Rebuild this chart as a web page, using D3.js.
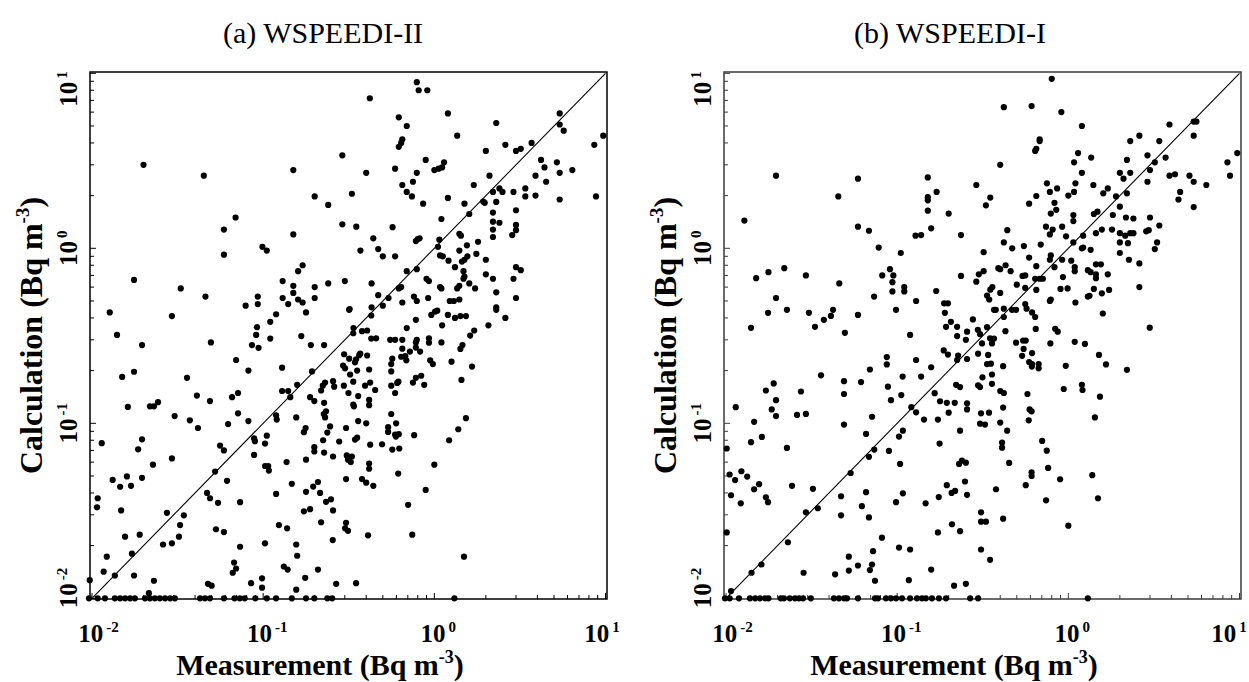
<!DOCTYPE html>
<html>
<head>
<meta charset="utf-8">
<script src="https://cdn.jsdelivr.net/npm/d3@7"></script>
<style>
  body { margin: 0; background: #fff; }
  text { font-family: "Liberation Serif", "Times New Roman", serif; }
</style>
</head>
<body>
<div id="chart"></div>
<script>

var decades = [-2, -1, 0, 1];

var wspeedi2 = [
  [0.020,3.0],[0.045,2.6],[0.15,2.8],[0.069,1.5],[0.059,1.28],[0.15,1.2],[0.059,0.92],[0.099,1.02],[0.105,0.97],[0.16,0.74],
  [0.0176,0.66],[0.033,0.59],[0.046,0.53],[0.13,0.65],[0.15,0.61],[0.093,0.53],[0.079,0.47],[0.093,0.48],[0.13,0.52],[0.15,0.556],
  [0.16,0.51],[0.14,0.48],
  [0.79,8.9],[0.81,8.0],[0.91,8.0],[0.42,7.2],[1.2,5.9],[0.62,5.6],[0.69,5.0],[2.3,5.2],[5.4,5.9],[5.4,5.1],[5.7,4.7],[9.7,4.4],
  [8.6,3.9],[1.36,4.4],[0.65,4.2],[0.64,4.0],[0.62,3.8],[2.6,3.9],[3.0,3.6],[3.2,3.7],[3.7,4.0],[2.0,3.6],[0.29,3.4],[0.89,3.2],
  [1.14,3.1],[1.11,2.9],[1.0,2.8],[1.06,2.85],[0.40,2.7],[0.59,2.85],[0.79,2.7],[0.75,2.4],[0.65,2.3],[0.69,2.1],[0.74,1.98],
  [0.86,1.8],[1.2,1.94],[2.1,2.6],[4.2,3.2],[4.4,2.9],[5.2,3.1],[5.4,2.7],[6.4,2.8],[3.9,2.6],[4.5,2.4],[1.7,2.3],[2.4,2.2],
  [2.5,2.1],[2.2,2.1],[2.9,2.1],[3.4,2.2],[3.4,1.98],[3.9,2.0],[5.4,1.9],[8.8,1.98],[0.33,2.05],[0.20,1.98],[0.24,1.77],[1.5,1.8],
  [1.93,1.85],[1.97,1.82],[2.3,1.84],[1.6,1.57],[2.2,1.6],[3.0,1.65],[1.1,1.47],[2.2,1.42],[2.4,1.40],[2.2,1.28],[3.0,1.36],
  [3.0,1.27],[2.85,1.19],[2.2,1.16],[0.29,1.37],[0.35,1.33],[0.57,1.32],[0.44,1.14],[0.47,0.99],[0.37,0.97],[0.50,0.90],[0.59,0.90],
  [0.80,1.13],[0.82,1.14],[0.78,1.10],[1.07,1.12],[1.05,1.02],[1.4,1.21],[1.43,1.18],[1.55,1.04],[1.4,0.97],[1.8,1.09],[1.08,0.91],
  [1.12,0.90],[1.21,0.85],[1.32,0.78],[1.5,0.86],[1.45,0.84],[1.56,0.90],[1.76,0.93],[2.0,0.86],[1.48,0.74],[2.0,0.71],[3.0,0.78],
  [3.2,0.75],[2.9,0.67],[2.2,0.67],[0.17,0.80],[0.20,0.60],[0.24,0.63],[0.30,0.65],[0.43,0.63],[0.69,0.74],[0.79,0.76],[0.64,0.60],
  [0.62,0.59],[0.90,0.67],[0.93,0.65],[1.08,0.60],[1.1,0.59],[1.36,0.59],[1.4,0.61],[1.48,0.67],[1.5,0.69],[1.6,0.63],[1.73,0.59],
  [2.3,0.56],[0.17,0.49],[0.20,0.52],[0.32,0.45],[0.47,0.54],[0.54,0.52],[0.50,0.47],[0.43,0.46],[0.65,0.49],[0.76,0.53],[0.79,0.50],
  [0.92,0.52],[1.23,0.50],[1.3,0.50],[1.4,0.51],[2.3,0.46],[3.0,0.52],
  [0.0127,0.43],[0.0293,0.41],[0.119,0.42],[0.014,0.32],[0.092,0.354],[0.091,0.32],[0.086,0.28],[0.094,0.27],[0.11,0.38],[0.11,0.305],
  [0.0196,0.28],[0.0495,0.29],[0.0695,0.23],[0.082,0.20],[0.015,0.184],[0.0176,0.197],[0.129,0.208],[0.0359,0.182],[0.041,0.144],
  [0.0489,0.134],[0.0658,0.141],[0.0713,0.149],[0.129,0.153],[0.14,0.153],[0.144,0.141],[0.158,0.166],[0.0162,0.124],[0.0218,0.125],
  [0.023,0.125],[0.0243,0.132],[0.0304,0.11],[0.0373,0.104],[0.0713,0.114],[0.082,0.103],[0.119,0.111],[0.12,0.105],[0.0624,0.099],
  [0.0416,0.094],[0.156,0.108],[0.0114,0.077],[0.0196,0.081],[0.0186,0.071],[0.0885,0.082],[0.0895,0.079],[0.1025,0.0766],
  [0.105,0.085],[0.0293,0.063],[0.0227,0.058],[0.056,0.0746],[0.059,0.07],[0.0885,0.066],[0.1025,0.057],[0.107,0.057],[0.108,0.0537],
  [0.137,0.06],[0.0132,0.0475],[0.016,0.0497],[0.0169,0.0439],[0.0146,0.0434],[0.0196,0.0488],[0.0524,0.053],[0.0615,0.0469],
  [0.147,0.0451],[0.047,0.04],[0.0489,0.0373],[0.0545,0.0351],[0.0733,0.0354],[0.119,0.0395],[0.0108,0.0373],[0.0107,0.0331],
  [0.0148,0.0318],[0.0274,0.0308],[0.0344,0.0298],[0.0327,0.0262],[0.0322,0.0225],[0.0293,0.0206],[0.026,0.0203],[0.019,0.0231],
  [0.0156,0.0225],[0.053,0.0248],[0.059,0.0239],[0.0733,0.0197],[0.1025,0.0206],[0.1236,0.0262],[0.138,0.0251],[0.156,0.0203],
  [0.158,0.0175],[0.0122,0.0173],[0.0117,0.0142],[0.0136,0.0135],[0.0171,0.018],[0.0176,0.0135],[0.023,0.0126],[0.0215,0.0107],
  [0.0476,0.0121],[0.05,0.0118],[0.0664,0.014],[0.0695,0.0148],[0.0676,0.016],[0.085,0.0122],[0.0985,0.013],[0.0985,0.0115],
  [0.132,0.0152],[0.139,0.0146],[0.156,0.0112],[0.0097,0.0127],
  [0.0096,0.01],[0.0108,0.01],[0.0119,0.01],[0.0136,0.01],[0.0146,0.01],[0.0156,0.01],[0.0167,0.01],[0.0178,0.01],[0.0204,0.01],
  [0.0218,0.01],[0.0233,0.01],[0.0249,0.01],[0.0267,0.01],[0.0286,0.01],[0.0305,0.01],[0.0428,0.01],[0.0457,0.01],[0.0489,0.01],
  [0.059,0.01],[0.068,0.01],[0.073,0.01],[0.078,0.01],[0.09,0.01],[0.105,0.01],[0.119,0.01],[0.147,0.01],[0.178,0.01],[0.199,0.01],
  [0.237,0.01],[0.253,0.01],[1.31,0.01],
  [0.178,0.43],[0.318,0.445],[0.428,0.413],[0.78,0.39],[0.96,0.416],[1.01,0.435],[1.04,0.44],[1.2,0.416],[1.32,0.40],[1.42,0.41],
  [1.53,0.41],[2.3,0.445],[2.6,0.40],[2.07,0.363],[1.11,0.363],[0.337,0.35],[0.336,0.327],[0.69,0.35],[0.167,0.315],[0.19,0.28],
  [0.227,0.28],[0.193,0.198],[0.378,0.336],[0.405,0.339],[0.428,0.305],[0.457,0.306],[0.552,0.30],[0.59,0.30],[0.65,0.30],[0.79,0.30],
  [0.78,0.29],[0.93,0.306],[0.93,0.289],[1.10,0.29],[1.62,0.317],[1.71,0.339],[0.297,0.248],[0.318,0.234],[0.344,0.223],[0.349,0.232],
  [0.364,0.245],[0.369,0.25],[0.405,0.244],[0.293,0.214],[0.301,0.206],[0.322,0.19],[0.354,0.20],[0.416,0.203],[0.56,0.218],
  [0.56,0.198],[0.568,0.234],[0.64,0.24],[0.65,0.267],[0.676,0.242],[0.686,0.229],[0.72,0.257],[0.78,0.271],[0.826,0.257],
  [0.946,0.229],[0.98,0.218],[1.26,0.225],[1.42,0.266],[1.46,0.28],[1.66,0.211],[0.188,0.141],[0.199,0.134],[0.218,0.154],
  [0.223,0.164],[0.23,0.171],[0.256,0.174],[0.26,0.162],[0.296,0.164],[0.315,0.149],[0.336,0.173],[0.359,0.143],[0.336,0.128],
  [0.339,0.125],[0.394,0.164],[0.422,0.171],[0.451,0.155],[0.416,0.136],[0.416,0.127],[0.56,0.164],[0.59,0.149],[0.607,0.17],
  [0.617,0.173],[0.75,0.171],[0.78,0.182],[0.838,0.187],[0.873,0.166],[1.44,0.177],[0.227,0.131],[0.226,0.113],[0.23,0.108],
  [0.233,0.117],[0.246,0.096],[0.237,0.0885],[0.177,0.094],[0.173,0.089],[0.305,0.094],[0.359,0.103],[0.40,0.10],[0.56,0.113],
  [0.598,0.10],[0.537,0.095],[0.537,0.0893],[0.59,0.0863],[0.62,0.0867],[0.596,0.084],[0.762,0.0855],[1.22,0.08],[1.38,0.0925],
  [1.53,0.107],[0.199,0.073],[0.199,0.069],[0.224,0.08],[0.227,0.068],[0.278,0.0787],[0.256,0.0646],[0.178,0.062],[0.308,0.0655],
  [0.313,0.062],[0.33,0.0646],[0.325,0.06],[0.344,0.0807],[0.354,0.0828],[0.422,0.0755],[0.495,0.0759],[0.568,0.0708],[0.624,0.0718],
  [0.416,0.0589],[0.416,0.055],[1.0,0.058],[0.615,0.0516],[0.89,0.0416],[0.305,0.048],[0.378,0.048],[0.40,0.0458],[0.44,0.0439],
  [0.209,0.0462],[0.196,0.0435],[0.178,0.0406],[0.215,0.04],[0.233,0.0356],[0.249,0.0368],[0.256,0.0318],[0.188,0.0323],
  [0.173,0.0314],[0.218,0.0272],[0.305,0.027],[0.301,0.0251],[0.313,0.0243],[0.255,0.0215],[0.41,0.0229],[0.703,0.0342],
  [0.743,0.0231],[1.49,0.0173],[0.209,0.0146],[0.176,0.0131],[0.267,0.0121],[0.349,0.0122]
];

var wspeedi1 = [
  [0.0196,2.6],[0.059,2.5],[0.151,2.54],[0.0453,1.98],[0.151,1.96],[0.151,1.88],[0.151,1.64],[0.0128,1.44],[0.059,1.33],[0.0684,1.26],
  [0.158,1.30],[0.128,1.18],[0.138,1.19],[0.078,1.01],[0.105,0.94],[0.0219,0.77],[0.0177,0.73],[0.015,0.675],[0.0293,0.70],
  [0.0818,0.70],[0.0908,0.76],[0.095,0.70],[0.0938,0.64],[0.0938,0.567],[0.11,0.60],[0.11,0.567],[0.0459,0.63],[0.0196,0.52],
  [0.0733,0.53],[0.129,0.50],
  [0.80,9.3],[0.42,6.4],[0.61,6.5],[0.91,6.0],[1.2,5.0],[3.9,5.1],[5.4,5.3],[5.6,5.3],[2.6,4.4],[2.3,4.1],[0.68,4.2],[0.68,4.1],
  [0.65,3.7],[0.64,3.6],[3.4,4.1],[5.4,4.4],[1.14,3.5],[1.08,3.1],[2.9,3.4],[1.36,3.3],[2.2,3.2],[3.7,3.3],[3.2,3.1],[0.40,3.0],
  [8.5,3.1],[9.7,3.5],[8.8,2.6],[1.2,2.7],[2.0,2.7],[2.1,2.5],[2.3,2.7],[3.0,2.8],[3.9,2.6],[4.2,2.65],[5.1,2.6],[5.4,2.4],[6.4,2.3],
  [0.29,2.3],[0.75,2.35],[0.86,2.2],[0.78,2.1],[1.1,2.35],[1.08,2.1],[1.0,2.0],[1.4,2.3],[1.7,2.2],[1.6,2.06],[1.9,1.98],[2.2,2.06],
  [2.9,2.4],[4.5,2.1],[4.4,1.9],[0.17,2.1],[0.35,1.95],[0.33,1.76],[0.59,1.8],[0.65,1.99],[0.83,1.82],[0.85,1.66],[0.79,1.58],
  [2.0,1.73],[5.4,1.72],[0.20,1.58],[1.07,1.55],[1.07,1.43],[1.41,1.57],[1.48,1.62],[1.82,1.55],[2.17,1.5],[2.4,1.48],[3.0,1.5],
  [0.236,1.19],[0.44,1.27],[0.74,1.33],[0.81,1.28],[0.78,1.2],[0.92,1.33],[0.97,1.17],[1.22,1.18],[1.57,1.28],[1.8,1.28],[1.45,1.22],
  [2.0,1.22],[2.15,1.18],[2.3,1.22],[2.4,1.22],[2.85,1.25],[2.95,1.27],[3.4,1.35],[0.42,1.08],[0.47,1.0],[0.55,1.03],[0.69,1.05],
  [1.07,1.08],[1.2,1.0],[1.22,1.01],[1.35,0.98],[2.0,1.08],[2.23,1.07],[3.2,0.99],[3.3,1.08],[0.32,0.95],[0.59,0.885],[0.79,0.91],
  [0.78,0.86],[0.92,0.86],[1.04,0.85],[2.0,0.94],[2.6,0.82],[2.26,0.86],[0.65,0.79],[0.40,0.76],[0.39,0.77],[0.43,0.80],[0.46,0.74],
  [0.83,0.78],[1.09,0.78],[1.09,0.74],[1.3,0.75],[1.35,0.73],[1.45,0.71],[1.55,0.81],[1.45,0.81],[1.7,0.71],[1.45,0.675],
  [0.236,0.695],[0.29,0.645],[0.30,0.71],[0.32,0.74],[0.50,0.62],[0.54,0.695],[0.56,0.70],[0.64,0.67],[0.68,0.67],[0.71,0.67],
  [0.93,0.685],[0.90,0.586],[0.99,0.59],[1.1,0.49],[1.3,0.53],[1.33,0.535],[1.41,0.586],[1.57,0.553],[1.73,0.578],[2.6,0.60],
  [0.169,0.57],[0.35,0.58],[0.36,0.60],[0.40,0.556],[0.335,0.537],[0.345,0.51],[0.56,0.594],[0.65,0.578],[0.78,0.50],[0.79,0.51],
  [0.188,0.485],[0.198,0.485],[0.42,0.452],[0.57,0.452],[0.56,0.48],
  [0.0176,0.428],[0.0227,0.445],[0.0305,0.428],[0.0331,0.356],[0.0373,0.39],[0.041,0.411],[0.0422,0.445],[0.059,0.416],[0.0985,0.445],
  [0.19,0.428],[0.193,0.356],[0.206,0.38],[0.224,0.356],[0.224,0.315],[0.014,0.351],[0.0495,0.329],[0.119,0.32],[0.187,0.261],
  [0.198,0.247],[0.224,0.23],[0.129,0.23],[0.087,0.239],[0.087,0.217],[0.158,0.209],[0.0693,0.203],[0.0359,0.188],[0.0489,0.174],
  [0.0615,0.172],[0.1076,0.185],[0.138,0.185],[0.0883,0.162],[0.1057,0.145],[0.0171,0.154],[0.019,0.169],[0.0274,0.152],
  [0.0489,0.147],[0.092,0.1355],[0.121,0.1236],[0.1656,0.1486],[0.178,0.1337],[0.195,0.131],[0.217,0.131],[0.20,0.115],
  [0.0114,0.1236],[0.0185,0.12],[0.0196,0.1355],[0.0196,0.11],[0.026,0.1117],[0.0293,0.1132],[0.0146,0.102],[0.0489,0.0984],
  [0.0713,0.109],[0.129,0.1156],[0.1435,0.105],[0.173,0.105],[0.0658,0.0869],[0.1025,0.084],[0.108,0.0908],[0.233,0.0908],
  [0.014,0.078],[0.0162,0.0836],[0.0101,0.0718],[0.0227,0.0723],[0.0684,0.0643],[0.0735,0.0708],[0.0895,0.0695],[0.104,0.0586],
  [0.177,0.0766],[0.23,0.0586],[0.0105,0.051],[0.0113,0.0474],[0.0123,0.0532],[0.0133,0.0496],[0.0146,0.042],[0.0156,0.0449],
  [0.0171,0.0378],[0.0176,0.0354],[0.0107,0.0388],[0.0122,0.0349],[0.0243,0.0439],[0.0322,0.0422],[0.0344,0.0327],[0.0293,0.031],
  [0.047,0.0383],[0.047,0.0298],[0.0535,0.052],[0.0622,0.0336],[0.0658,0.0404],[0.0684,0.029],[0.0985,0.0354],[0.108,0.0398],
  [0.1466,0.0349],[0.175,0.0379],[0.195,0.0443],[0.208,0.04],[0.0101,0.0238],[0.023,0.0209],[0.0815,0.0222],[0.1025,0.0195],
  [0.119,0.019],[0.173,0.0238],[0.209,0.0265],[0.233,0.0242],[0.0522,0.0173],[0.059,0.0154],[0.0723,0.0186],[0.0713,0.0156],
  [0.0693,0.0145],[0.0742,0.0126],[0.0141,0.014],[0.0161,0.0156],[0.0284,0.014],[0.0434,0.0137],[0.0522,0.0144],[0.117,0.0127],
  [0.158,0.0146],[0.215,0.0118],[0.0107,0.011],
  [0.00987,0.01],[0.0105,0.01],[0.0119,0.01],[0.0138,0.01],[0.0148,0.01],[0.0158,0.01],[0.0169,0.01],[0.0177,0.01],[0.0209,0.01],
  [0.0218,0.01],[0.0236,0.01],[0.0253,0.01],[0.0267,0.01],[0.0282,0.01],[0.0313,0.01],[0.0427,0.01],[0.0457,0.01],[0.0489,0.01],
  [0.0509,0.01],[0.059,0.01],[0.0742,0.01],[0.0772,0.01],[0.086,0.01],[0.092,0.01],[0.0985,0.01],[0.1067,0.01],[0.119,0.01],
  [0.1306,0.01],[0.1396,0.01],[0.147,0.01],[0.1596,0.01],[0.1754,0.01],[0.193,0.01],[0.267,0.01],[0.297,0.01],[1.30,0.01],
  [0.277,0.392],[0.256,0.334],[0.252,0.30],[0.296,0.342],[0.305,0.323],[0.313,0.286],[0.335,0.354],[0.349,0.306],[0.358,0.286],
  [0.368,0.305],[0.368,0.445],[0.377,0.445],[0.42,0.405],[0.469,0.445],[0.495,0.445],[0.614,0.43],[0.64,0.405],[0.645,0.346],
  [0.429,0.336],[0.495,0.289],[0.544,0.297],[0.564,0.297],[0.548,0.266],[0.537,0.243],[0.614,0.252],[0.59,0.224],[0.614,0.218],
  [0.612,0.211],[0.671,0.218],[0.671,0.206],[0.785,0.286],[0.838,0.347],[0.867,0.334],[1.09,0.292],[1.25,0.284],[1.59,0.424],
  [2.99,0.352],[1.51,0.246],[1.66,0.217],[2.2,0.202],[0.966,0.213],[0.227,0.244],[0.256,0.233],[0.297,0.25],[0.34,0.246],
  [0.353,0.219],[0.335,0.218],[0.358,0.19],[0.315,0.183],[0.221,0.166],[0.233,0.161],[0.297,0.165],[0.305,0.161],[0.358,0.168],
  [0.40,0.153],[0.42,0.149],[0.416,0.212],[0.94,0.157],[1.2,0.166],[1.21,0.155],[1.53,0.142],[0.577,0.147],[0.594,0.12],[0.61,0.117],
  [0.587,0.104],[1.43,0.108],[0.256,0.13],[0.256,0.12],[0.309,0.114],[0.344,0.115],[0.305,0.0995],[0.326,0.0984],[0.40,0.101],
  [0.416,0.123],[0.439,0.0908],[0.703,0.0793],[0.748,0.0698],[0.41,0.0776],[0.41,0.0726],[0.239,0.0612],[0.252,0.0596],
  [0.249,0.0465],[0.256,0.039],[0.218,0.0411],[0.451,0.0594],[0.378,0.042],[0.564,0.0443],[0.61,0.0525],[0.61,0.05],[0.762,0.0556],
  [0.895,0.0479],[1.38,0.0505],[1.49,0.0373],[0.741,0.0363],[0.309,0.031],[0.309,0.0274],[0.33,0.0274],[0.416,0.0285],[1.0,0.026],
  [0.309,0.019],[0.349,0.0166],[0.252,0.0121]
];

// one entry per panel
var panels = [
  { title: '(a) WSPEEDI-II', titleX: 323, left: 90, frameColor: '#000', data: wspeedi2 },
  { title: '(b) WSPEEDI-I', titleX: 950, left: 724, frameColor: '#3a3a3a', data: wspeedi1 }
];

// frame box (window.top is reserved, hence plotTop)
var width = 1249, height = 682;
var plotTop = 72, plotBottom = 599, frameW = 517;

var svg = d3.select('#chart')
    .append('svg')
    .attr('width', width)
    .attr('height', height);

svg.append('rect').attr('width', width).attr('height', height).attr('fill', '#fff');

panels.forEach(function(p) { drawPanel(p); });

function drawPanel(p) {
    var right = p.left + frameW;
    var x = d3.scaleLog().domain([0.01, 10]).range([p.left + 2, right - 1.5]);
    var y = d3.scaleLog().domain([0.01, 10]).range([plotBottom - 0.7, plotTop + 1.3]);
    var isMajor = function(v) { return Math.abs(Math.log10(v) - Math.round(Math.log10(v))) < 1e-6; };

    var g = svg.append('g');

    // panel title
    g.append('text')
        .attr('x', p.titleX)
        .attr('y', 43)
        .attr('text-anchor', 'middle')
        .attr('font-size', 30)
        .text(p.title);

    // inward ticks, bottom and left only
    g.append('g').selectAll('line')
        .data(x.ticks())
        .enter().append('line')
        .attr('x1', d => x(d)).attr('x2', d => x(d))
        .attr('y1', plotBottom).attr('y2', d => plotBottom - (isMajor(d) ? 6 : 4))
        .attr('stroke', p.frameColor).attr('stroke-width', 1);

    g.append('g').selectAll('line')
        .data(y.ticks())
        .enter().append('line')
        .attr('y1', d => y(d)).attr('y2', d => y(d))
        .attr('x1', p.left).attr('x2', d => p.left + (isMajor(d) ? 6 : 4))
        .attr('stroke', p.frameColor).attr('stroke-width', 1);

    // frame
    g.append('rect')
        .attr('x', p.left).attr('y', plotTop)
        .attr('width', frameW).attr('height', plotBottom - plotTop)
        .attr('fill', 'none')
        .attr('stroke', p.frameColor)
        .attr('stroke-width', 1.5);

    // x tick labels, kept inside the frame and the page
    var xl = g.append('g').selectAll('text')
        .data(decades)
        .enter().append('text')
        .attr('x', d => Math.max(p.left + 8.5, Math.min(right - 5, width - 20, x(Math.pow(10, d)) + 4)))
        .attr('y', 642)
        .attr('text-anchor', 'middle')
        .attr('font-weight', 'bold')
        .attr('font-size', 25);
    xl.append('tspan').text('10');
    xl.append('tspan').attr('dx', 3).attr('dy', -10).attr('font-size', 15).text(d => d);

    // y tick labels (rotated)
    var yl = g.append('g').selectAll('text')
        .data(decades)
        .enter().append('text')
        .attr('transform', d => 'translate(' + (p.left - 13) + ',' +
            Math.max(plotTop + 17, Math.min(plotBottom - 11, y(Math.pow(10, d)))) + ') rotate(-90)')
        .attr('text-anchor', 'middle')
        .attr('font-weight', 'bold')
        .attr('font-size', 25);
    yl.append('tspan').text('10');
    yl.append('tspan').attr('dx', 3).attr('dy', -10).attr('font-size', 15).text(d => d);

    // axis titles
    var xt = g.append('text')
        .attr('x', p.left + 230)
        .attr('y', 675)
        .attr('text-anchor', 'middle')
        .attr('font-weight', 'bold')
        .attr('font-size', 30);
    xt.append('tspan').text('Measurement (Bq m');
    xt.append('tspan').attr('dy', -12).attr('font-size', 18).text('-3');
    xt.append('tspan').attr('dy', 12).text(')');

    var yt = g.append('text')
        .attr('transform', 'translate(' + (p.left - 48) + ',' + ((plotTop + plotBottom) / 2) + ') rotate(-90)')
        .attr('text-anchor', 'middle')
        .attr('font-weight', 'bold')
        .attr('font-size', 32);
    yt.append('tspan').text('Calculation (Bq m');
    yt.append('tspan').attr('dy', -13).attr('font-size', 19).text('-3');
    yt.append('tspan').attr('dy', 13).text(')');

    // 1:1 line
    g.append('line')
        .attr('x1', x(0.01)).attr('y1', y(0.01))
        .attr('x2', x(10)).attr('y2', y(10))
        .attr('stroke', '#000')
        .attr('stroke-width', 1.1);

    // points
    g.append('g').selectAll('circle')
        .data(p.data)
        .enter().append('circle')
        .attr('cx', d => x(d[0]))
        .attr('cy', d => y(d[1]))
        .attr('r', 3.1)
        .attr('fill', '#000');
}

</script>
</body>
</html>
